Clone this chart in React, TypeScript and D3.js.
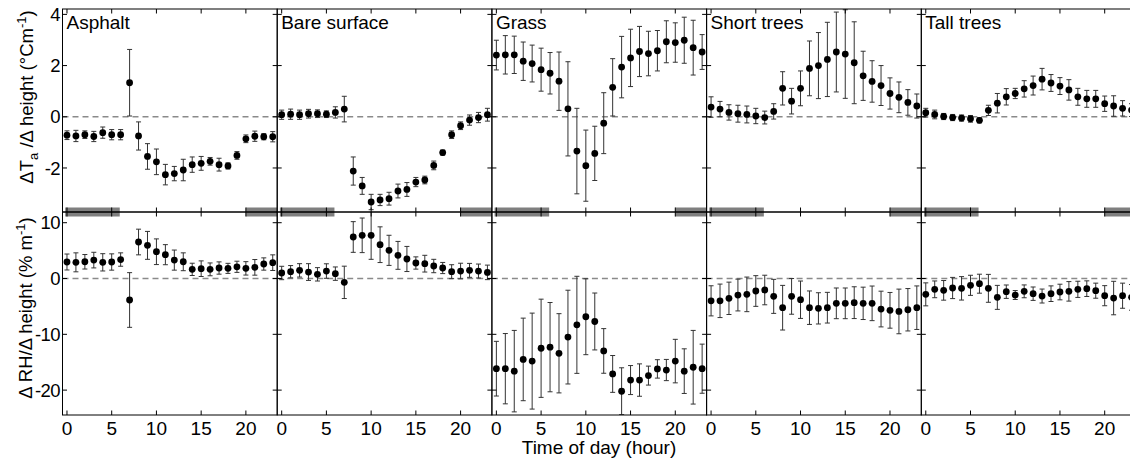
import React from "react";
import * as d3 from "d3";

const hours = [0, 1, 2, 3, 4, 5, 6, 7, 8, 9, 10, 11, 12, 13, 14, 15, 16, 17, 18, 19, 20, 21, 22, 23];
const panelNames = ["Asphalt", "Bare surface", "Grass", "Short trees", "Tall trees"];

// Temperature gradient (°C m-1)
const asphaltT = [-0.72, -0.75, -0.7, -0.77, -0.62, -0.7, -0.7, 1.33, -0.75, -1.55, -1.76, -2.26, -2.22, -2.08, -1.87, -1.82, -1.74, -1.87, -1.92, -1.51, -0.86, -0.76, -0.78, -0.78];
const asphaltTErr = [0.17, 0.22, 0.15, 0.2, 0.22, 0.2, 0.2, 1.3, 0.55, 0.5, 0.5, 0.4, 0.28, 0.42, 0.3, 0.27, 0.15, 0.25, 0.12, 0.15, 0.15, 0.2, 0.12, 0.2];
const bareT = [0.08, 0.1, 0.08, 0.12, 0.12, 0.1, 0.17, 0.3, -2.12, -2.7, -3.33, -3.25, -3.2, -2.9, -2.84, -2.55, -2.47, -1.9, -1.4, -0.7, -0.35, -0.13, -0.03, 0.08];
const bareTErr = [0.18, 0.2, 0.18, 0.17, 0.15, 0.13, 0.22, 0.5, 0.55, 0.33, 0.3, 0.22, 0.25, 0.27, 0.27, 0.18, 0.15, 0.17, 0.1, 0.15, 0.15, 0.2, 0.2, 0.25];
const grassT = [2.41, 2.42, 2.42, 2.17, 2.08, 1.84, 1.7, 1.39, 0.31, -1.34, -1.91, -1.43, -0.25, 1.15, 1.94, 2.3, 2.55, 2.47, 2.58, 2.93, 2.9, 2.99, 2.7, 2.53];
const grassTErr = [0.58, 0.75, 0.73, 0.75, 0.72, 0.84, 0.81, 1.14, 1.84, 1.67, 1.39, 1.06, 1.19, 1.12, 1.2, 1.12, 0.98, 0.87, 0.79, 0.82, 0.77, 0.9, 1.07, 0.68];
const shortT = [0.38, 0.3, 0.17, 0.12, 0.09, 0.03, -0.03, 0.21, 1.11, 0.61, 1.11, 1.89, 2.0, 2.24, 2.53, 2.45, 2.11, 1.6, 1.38, 1.22, 0.91, 0.76, 0.56, 0.42];
const shortTErr = [0.4, 0.3, 0.3, 0.33, 0.33, 0.3, 0.25, 0.3, 0.65, 0.5, 0.68, 1.07, 1.29, 1.45, 1.56, 1.73, 1.6, 0.96, 0.81, 0.78, 0.61, 0.6, 0.5, 0.47];
const tallT = [0.16, 0.09, 0.01, -0.03, -0.05, -0.08, -0.14, 0.25, 0.53, 0.78, 0.91, 1.09, 1.22, 1.47, 1.32, 1.2, 1.05, 0.78, 0.7, 0.7, 0.51, 0.42, 0.33, 0.26];
const tallTErr = [0.17, 0.17, 0.12, 0.12, 0.12, 0.13, 0.1, 0.2, 0.38, 0.32, 0.2, 0.32, 0.37, 0.42, 0.33, 0.33, 0.4, 0.33, 0.33, 0.33, 0.3, 0.4, 0.3, 0.25];

// Relative humidity gradient (% m-1)
const asphaltRH = [2.96, 2.9, 3.0, 3.3, 2.9, 2.96, 3.4, -3.85, 6.54, 5.94, 4.8, 4.27, 3.3, 3.0, 1.64, 1.76, 1.64, 1.88, 1.82, 2.1, 1.82, 2.0, 2.6, 2.84];
const asphaltRHErr = [1.43, 1.7, 1.3, 1.4, 1.55, 1.46, 1.2, 4.9, 2.3, 2.5, 2.3, 1.8, 1.8, 1.6, 1.1, 1.4, 1.15, 1.1, 0.9, 1.0, 1.2, 1.4, 1.1, 1.4];
const bareRH = [0.99, 1.22, 1.46, 1.16, 0.75, 1.34, 0.87, -0.69, 7.44, 7.74, 7.74, 6.06, 5.05, 4.15, 3.5, 2.78, 2.66, 2.24, 1.88, 1.22, 1.34, 1.46, 1.34, 1.1];
const bareRHErr = [1.2, 1.1, 1.2, 1.5, 1.2, 1.3, 1.2, 2.9, 2.75, 3.1, 4.3, 3.2, 2.7, 2.5, 2.25, 1.1, 1.5, 1.2, 1.0, 1.25, 1.4, 1.25, 1.25, 1.3];
const grassRH = [-16.16, -16.16, -16.6, -14.5, -14.8, -12.5, -12.3, -13.4, -10.5, -8.3, -6.85, -7.7, -12.98, -17.1, -20.2, -18.2, -18.2, -17.4, -16.2, -16.4, -14.8, -16.6, -15.9, -16.16];
const grassRHErr = [4.9, 6.3, 7.3, 7.4, 8.6, 8.8, 8.0, 7.1, 8.4, 8.7, 6.8, 5.1, 4.0, 3.3, 4.2, 2.6, 2.9, 1.7, 1.65, 1.9, 3.9, 4.0, 6.6, 4.4];
const shortRH = [-4.0, -4.0, -3.55, -2.96, -2.84, -2.24, -2.06, -3.2, -5.23, -3.2, -3.8, -5.23, -5.35, -5.23, -4.45, -4.45, -4.33, -4.45, -4.45, -5.47, -5.7, -5.9, -5.6, -5.23];
const shortRHErr = [2.7, 3.0, 2.9, 2.85, 3.1, 2.75, 2.65, 3.05, 4.0, 3.2, 3.35, 3.0, 2.8, 2.75, 2.75, 2.75, 2.85, 2.9, 3.1, 3.2, 3.2, 4.0, 3.8, 3.9];
const tallRH = [-2.84, -1.94, -2.12, -1.7, -1.76, -1.22, -0.93, -1.76, -3.38, -2.36, -2.96, -2.3, -2.72, -3.14, -2.72, -2.42, -2.3, -1.94, -1.82, -2.18, -3.08, -3.5, -3.08, -3.38];
const tallRHErr = [2.06, 1.5, 1.76, 1.9, 2.1, 1.8, 1.7, 2.5, 2.15, 1.2, 0.8, 1.15, 1.2, 1.25, 1.4, 1.4, 1.75, 1.45, 1.4, 1.35, 1.8, 3.0, 2.25, 2.3];

const topMeans = [asphaltT, bareT, grassT, shortT, tallT];
const topErrs = [asphaltTErr, bareTErr, grassTErr, shortTErr, tallTErr];
const botMeans = [asphaltRH, bareRH, grassRH, shortRH, tallRH];
const botErrs = [asphaltRHErr, bareRHErr, grassRHErr, shortRHErr, tallRHErr];

const nightSpans = [[-0.2, 5.9], [20, 23.5]];
const xTicks = [0, 5, 10, 15, 20];
const topYTicks = [-2, 0, 2, 4];
const botYTicks = [-20, -10, 0, 10];

const FONT = "'Liberation Sans', Arial, Helvetica, sans-serif";

const left0 = 62.5;
const panelW = 214.7;
const topY0 = 9;
const midY = 212;
const botY = 415;

export default function App() {
  const x = d3.scaleLinear().domain([-0.5, 23.5]).range([0, panelW]);
  const yT = d3.scaleLinear().domain([-3.72, 4.21]).range([midY, topY0]);
  const yR = d3.scaleLinear().domain([-24.46, 11.92]).range([botY, midY]);

  const rows = [
    { y: yT, means: topMeans, errs: topErrs, ticks: topYTicks, y0: topY0, y1: midY },
    { y: yR, means: botMeans, errs: botErrs, ticks: botYTicks, y0: midY, y1: botY },
  ];
  const tickLen = 4.5;
  const cap = 2.5;

  return (
    <div style={{ position: "absolute", left: 0, top: 0 }}>
      <svg width={1130} height={464} style={{ display: "block", background: "#fff" }} fontFamily={FONT}>
        <defs>
          {rows.map((r, ri) => (
            <clipPath id={`clip${ri}`} key={ri}>
              <rect x={0} y={r.y0} width={panelW} height={r.y1 - r.y0} />
            </clipPath>
          ))}
        </defs>
        <rect x={0} y={0} width={1130} height={464} fill="#fff" />
        {panelNames.map((name, pi) => (
          <g key={name} transform={`translate(${left0 + pi * panelW},0)`}>
            {rows.map((r, ri) => (
              <g key={ri} clipPath={`url(#clip${ri})`}>
                <line x1={0} x2={panelW} y1={r.y(0)} y2={r.y(0)} stroke="#8a8a8a" strokeWidth={1.4} strokeDasharray="6,4" />
                {hours.map((h, i) => {
                  const m = r.means[pi][i];
                  const e = r.errs[pi][i];
                  const cx = x(h);
                  const yHi = r.y(m + e);
                  const yLo = r.y(m - e);
                  return (
                    <g key={h}>
                      <line x1={cx} x2={cx} y1={yHi} y2={yLo} stroke="#333" strokeWidth={1} />
                      <line x1={cx - cap} x2={cx + cap} y1={yHi} y2={yHi} stroke="#333" strokeWidth={1} />
                      <line x1={cx - cap} x2={cx + cap} y1={yLo} y2={yLo} stroke="#333" strokeWidth={1} />
                      <circle cx={cx} cy={r.y(m)} r={3.4} fill="#000" />
                    </g>
                  );
                })}
              </g>
            ))}
            {nightSpans.map((s, si) => (
              <rect key={si} x={x(s[0])} y={midY - 4.5} width={x(s[1]) - x(s[0])} height={9} fill="#7f7f7f" />
            ))}
            <rect x={0} y={topY0} width={panelW} height={midY - topY0} fill="none" stroke="#000" strokeWidth={1} />
            <rect x={0} y={midY} width={panelW} height={botY - midY} fill="none" stroke="#000" strokeWidth={1} />
            {rows.map((r, ri) => (
              <g key={`t${ri}`} stroke="#000" strokeWidth={1}>
                {xTicks.map((t) => (
                  <g key={t}>
                    <line x1={x(t)} x2={x(t)} y1={r.y0} y2={r.y0 + tickLen} />
                    <line x1={x(t)} x2={x(t)} y1={r.y1} y2={r.y1 - tickLen} />
                  </g>
                ))}
                {r.ticks.map((t) => (
                  <g key={t}>
                    <line x1={0} x2={tickLen} y1={r.y(t)} y2={r.y(t)} />
                    <line x1={panelW} x2={panelW - tickLen} y1={r.y(t)} y2={r.y(t)} />
                  </g>
                ))}
              </g>
            ))}
            <text x={4} y={28.5} fontSize={19} fill="#000">{name}</text>
            {xTicks.map((t) => (
              <text key={t} x={x(t)} y={435} fontSize={19} textAnchor="middle" fill="#000">{t}</text>
            ))}
          </g>
        ))}
        {rows.map((r, ri) =>
          r.ticks.map((t) => (
            <text key={`${ri}-${t}`} x={60} y={r.y(t)} dy="0.36em" fontSize={18.5} letterSpacing={-0.6} textAnchor="end" fill="#000">{t}</text>
          ))
        )}
        <text transform="translate(33,97) rotate(-90)" fontSize={18.5} textAnchor="middle" fill="#000">
          <tspan>ΔT</tspan>
          <tspan fontSize={13} dy={5}>a</tspan>
          <tspan dy={-5}> /Δ height (°Cm</tspan>
          <tspan fontSize={13} dy={-7}>-1</tspan>
          <tspan dy={7}>)</tspan>
        </text>
        <text transform="translate(32,308) rotate(-90)" fontSize={18.5} textAnchor="middle" fill="#000">
          <tspan>Δ RH/Δ height (% m</tspan>
          <tspan fontSize={13} dy={-7}>-1</tspan>
          <tspan dy={7}>)</tspan>
        </text>
        <text x={599} y={454} fontSize={19} textAnchor="middle" fill="#000">Time of day (hour)</text>
      </svg>
    </div>
  );
}
